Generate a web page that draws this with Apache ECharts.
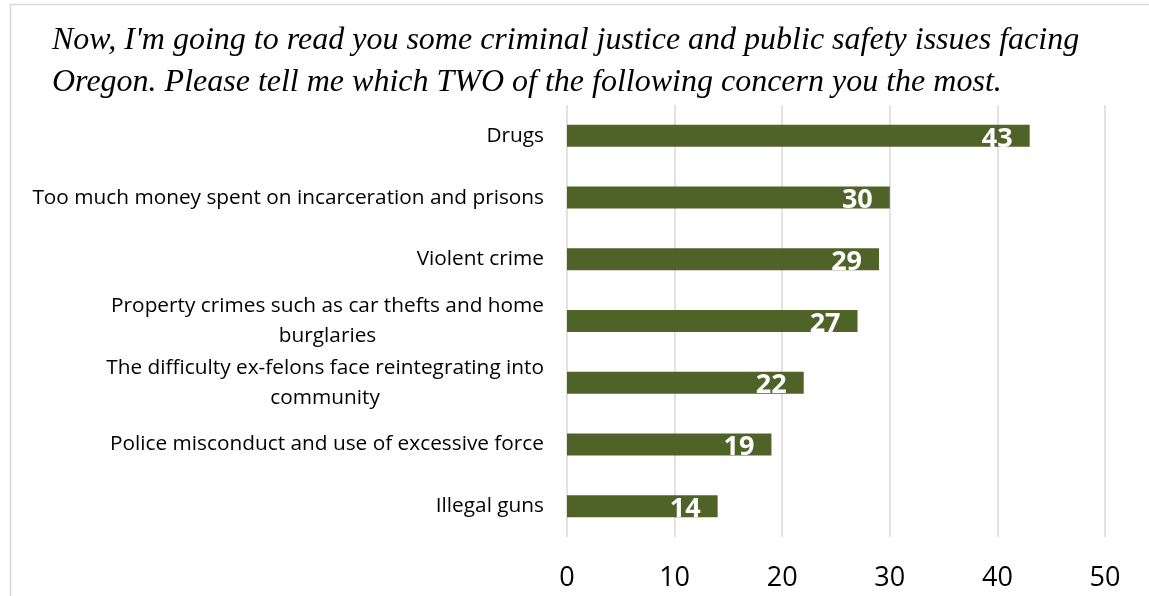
<!DOCTYPE html>
<html>
<head>
<meta charset="utf-8">
<script src="https://cdn.jsdelivr.net/npm/echarts@6/dist/echarts.min.js"></script>
<style>html,body{margin:0;padding:0;background:#fff;}#c{width:1149px;height:596px;}</style>
</head>
<body>
<div id="c"></div>
<script>
const titleText = "Now, I'm going to read you some criminal justice and public safety issues facing\nOregon. Please tell me which TWO of the following concern you the most.";
const categories = [
  "Drugs",
  "Too much money spent on incarceration and prisons",
  "Violent crime",
  "Property crimes such as car thefts and home\nburglaries",
  "The difficulty ex-felons face reintegrating into\ncommunity",
  "Police misconduct and use of excessive force",
  "Illegal guns"
];
const values = [43, 30, 29, 27, 22, 19, 14];
const xTicks = { min: 0, max: 50, interval: 10 };

const chart = echarts.init(document.getElementById('c'), null, { renderer: 'canvas' });
chart.setOption({
  animation: false,
  backgroundColor: '#fff',
  graphic: [{
    type: 'rect', left: 8, top: 2, z: -1,
    shape: { width: 1200, height: 700 },
    style: { fill: 'none', stroke: '#d9d9d9', lineWidth: 1.5 }
  }],
  title: {
    text: titleText,
    left: 47, top: 15,
    textStyle: { fontFamily: 'Liberation Serif', fontStyle: 'italic', fontWeight: 'normal', fontSize: 32, lineHeight: 42, color: '#000' }
  },
  grid: { left: 567, right: 44, top: 105, bottom: 59, containLabel: false },
  xAxis: {
    type: 'value', min: xTicks.min, max: xTicks.max, interval: xTicks.interval,
    axisLine: { show: false }, axisTick: { show: false },
    splitLine: { show: true, lineStyle: { color: '#d9d9d9', width: 1.5 } },
    axisLabel: { fontFamily: 'Open Sans', fontSize: 27, color: '#000', margin: 28 }
  },
  yAxis: {
    type: 'category', data: categories, inverse: true,
    axisLine: { show: false }, axisTick: { show: false },
    axisLabel: {
      margin: 23, color: '#000', fontFamily: 'Open Sans', fontSize: 20.8, lineHeight: 30,
      formatter: function (v) { return v.split('\n').map(function (s) { return '{c|' + s + '}'; }).join('\n'); },
      rich: { c: { align: 'center', fontFamily: 'Open Sans', fontSize: 20.8, lineHeight: 30, color: '#000' } }
    }
  },
  series: [{
    type: 'bar', data: values, barWidth: 22,
    itemStyle: { color: '#4F6228' },
    label: {
      show: true, position: 'insideRight', distance: 17, offset: [0, 3],
      color: '#fff', fontWeight: 'bold', fontFamily: 'Open Sans', fontSize: 27
    }
  }]
});
</script>
</body>
</html>
